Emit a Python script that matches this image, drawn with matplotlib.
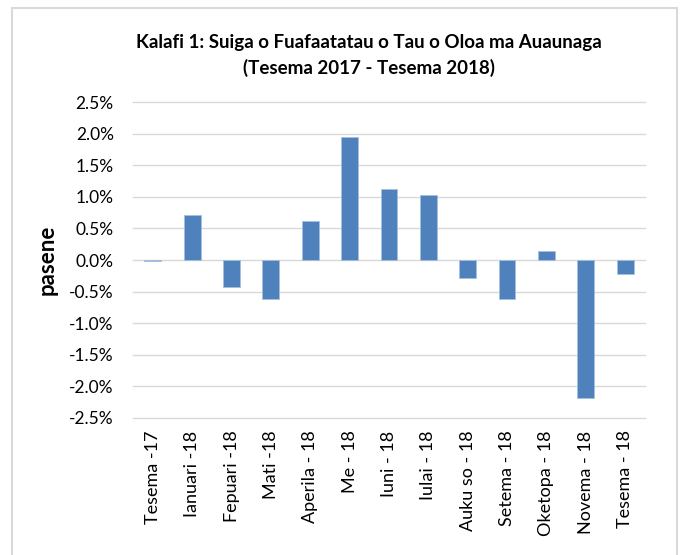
import matplotlib.pyplot as plt
from matplotlib.patches import Rectangle
from matplotlib.ticker import FuncFormatter

# === data ===
months = ["Tesema -17", "Ianuari -18", "Fepuari -18", "Mati -18", "Aperila - 18",
          "Me - 18", "Iuni - 18", "Iulai - 18", "Auku so - 18", "Setema - 18",
          "Oketopa - 18", "Novema - 18", "Tesema - 18"]
change_pct = [-0.02, 0.72, -0.42, -0.62, 0.62, 1.94, 1.13, 1.03, -0.28, -0.62, 0.15, -2.18, -0.22]
yticks = [2.5, 2.0, 1.5, 1.0, 0.5, 0.0, -0.5, -1.0, -1.5, -2.0, -2.5]

plt.rcParams['font.family'] = ['Lato', 'DejaVu Sans']

fig = plt.figure(figsize=(6.83, 5.55), dpi=100)
ax = fig.add_axes([0.195, 0.247, 0.749, 0.569])

# outer chart frame
fig.patches.append(Rectangle((12 / 683, -0.05), 665 / 683, 1 - 8 / 555 + 0.05,
                             transform=fig.transFigure, fill=False,
                             edgecolor='#d9d9d9', linewidth=1.5))

x = range(len(months))
ax.bar(x, change_pct, width=0.43, color='#4f81bd', edgecolor='#a7bfde', linewidth=0.6, zorder=3)

ax.set_xlim(-0.5, len(months) - 0.5)
ax.set_ylim(-2.5, 2.5)
ax.set_yticks(yticks)
ax.yaxis.set_major_formatter(FuncFormatter(lambda v, p: f"{v:.1f}%"))
ax.grid(axis='y', color='#d9d9d9', linewidth=1, zorder=0)
for gl in ax.get_ygridlines():
    gl.set_clip_on(False)
ax.set_xticks(list(x))
ax.set_xticklabels(months, rotation=90, fontsize=13)
ax.tick_params(axis='y', labelsize=12.5, length=0, pad=14)
ax.tick_params(axis='x', length=0, pad=9)
for s in ax.spines.values():
    s.set_visible(False)

ax.set_ylabel('pasene', fontsize=16, fontweight='bold', labelpad=0)
ax.yaxis.set_label_coords(-0.147, 0.5)
fig.text(0.54, 0.9, 'Kalafi 1: Suiga o Fuafaatatau o Tau o Oloa ma Auaunaga\n(Tesema 2017 - Tesema 2018)',
         ha='center', va='center', fontsize=13.5, fontweight='bold', linespacing=1.5)

fig.savefig('out.png', dpi=100)
